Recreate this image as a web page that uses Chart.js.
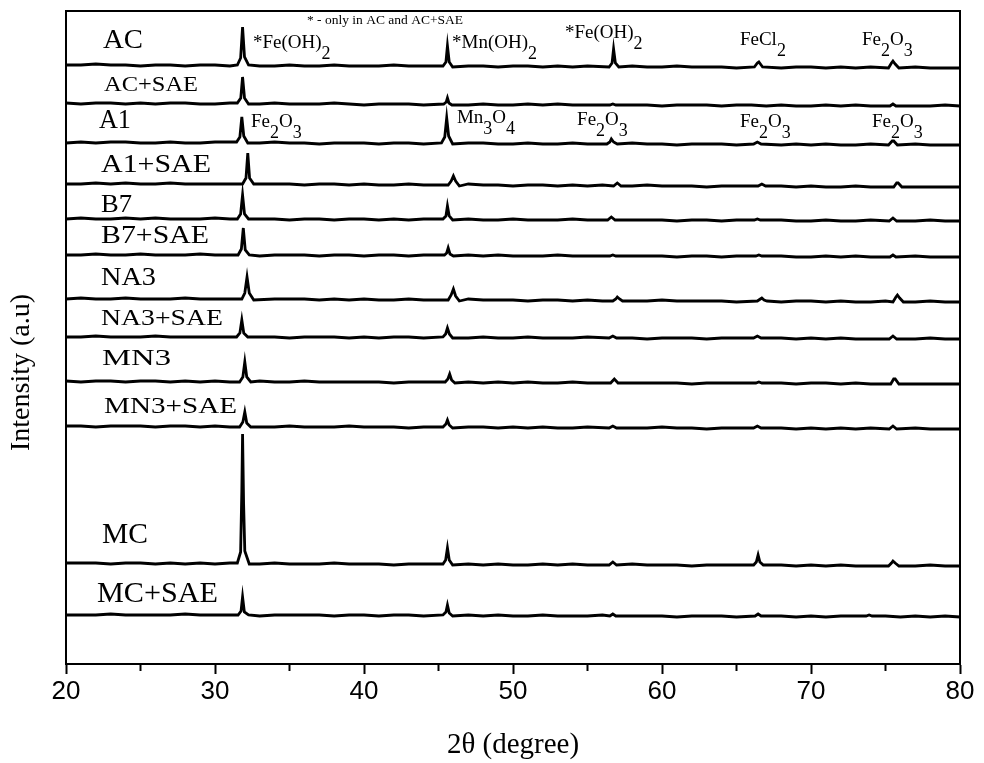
<!DOCTYPE html>
<html><head><meta charset="utf-8">
<script src="https://cdn.jsdelivr.net/npm/chart.js@4.4.1/dist/chart.umd.min.js"></script>
<style>html,body{margin:0;padding:0;background:#fff}#wrap{width:984px;height:763px}</style>
</head><body><div id="wrap"><canvas id="c" width="984" height="763"></canvas></div>
<script>
// ---- data ----
const samples = ['AC','AC+SAE','A1','A1+SAE','B7','B7+SAE','NA3','NA3+SAE','MN3','MN3+SAE','MC','MC+SAE'];
const offsets = [596,558,519,477,443,407,362,325,280,235,98,47];
const xTickLabels = [20,30,40,50,60,70,80];
const theta = [20,21,22,23,24,25,26,27,28,29,30,31,32,33,34,35,36,37,38,39,40,41,42,43,44,45,46,47,48,49,50,
  51,52,53,54,55,56,57,58,59,60,61,62,63,64,65,66,67,68,69,70,71,72,73,74,75,76,77,78,79,80];

const acBase    = [3,3,4,3,3,2,3,3,2,3, 3,2,3,2,2,3,2,2,3,2, 2,2,3,2,2,1,2,2,2,1, 2,2,1,2,1,2,1,1,2,1, 1,2,1,1,1,0,1,1,0,1, 1,0,1,0,1,0,0,1,0,0, 0];
const acSaeBase = [3,2,3,3,2,3,2,3,3,2, 2,3,2,2,3,2,2,2,3,2, 1,2,2,2,1,2,2,1,2,1, 1,2,1,2,1,1,1,2,1,1, 0,1,1,1,0,1,1,0,1,0, 0,1,0,1,0,0,1,0,0,1, 0];
const a1Base    = [2,3,2,3,3,2,2,3,2,2, 3,2,2,2,3,2,2,1,2,2, 2,1,2,2,1,2,1,2,2,1, 1,2,1,1,2,1,1,1,2,1, 1,0,1,1,1,0,1,1,0,1, 0,1,0,0,1,0,0,1,0,0, 0];
const a1SaeBase = [3,3,4,3,4,3,3,4,3,3, 3,3,3,4,3,3,2,3,3,2, 3,2,2,3,2,2,2,3,2,2, 1,2,2,1,2,1,2,1,1,2, 1,1,1,0,1,1,0,1,1,0, 1,0,0,1,0,0,1,0,0,0, 0];
const b7Base    = [2,3,2,2,3,2,3,2,2,2, 3,2,2,2,2,1,2,2,1,2, 2,1,2,1,2,1,1,2,1,1, 2,1,1,1,2,1,1,0,1,1, 1,0,1,1,0,1,0,1,1,0, 0,1,0,0,1,0,0,0,1,0, 0];
const b7SaeBase = [2,2,3,2,2,3,2,2,2,3, 2,2,2,1,2,2,2,1,2,2, 1,2,2,1,2,1,1,2,1,2, 1,1,1,2,1,1,1,0,1,1, 1,0,1,1,0,1,1,0,1,0, 0,1,0,1,0,0,0,1,0,0, 0];
const na3Base   = [3,4,3,3,4,3,3,3,4,3, 3,3,3,2,3,3,3,2,3,2, 3,2,2,3,2,2,2,3,2,2, 2,1,2,2,1,2,1,2,1,1, 2,1,1,1,1,0,1,1,0,1, 1,0,1,0,0,1,0,0,1,0, 0];
const na3SaeBase= [2,2,3,2,2,2,3,2,2,2, 2,3,2,2,2,1,2,2,2,1, 2,1,2,2,1,2,1,1,2,1, 1,2,1,1,1,2,1,1,1,0, 1,1,1,0,1,1,0,1,1,0, 1,0,1,0,0,1,0,0,1,0, 0];
const mn3Base   = [3,2,3,3,2,3,3,2,3,2, 3,2,2,3,2,2,3,2,2,2, 2,2,1,2,2,1,2,2,1,2, 1,2,1,1,2,1,1,2,1,1, 1,1,0,1,1,1,0,1,1,0, 1,1,0,1,0,0,1,0,0,0, 0];
const mn3SaeBase= [3,3,2,3,3,3,2,3,3,2, 3,2,3,2,2,3,2,2,2,3, 2,2,2,1,2,2,1,2,2,1, 2,1,2,1,1,2,1,1,1,1, 2,1,1,0,1,1,0,1,1,0, 1,0,1,0,1,0,0,1,0,0, 0];
const mcBase    = [3,3,3,2,3,3,2,3,2,3, 2,3,2,2,3,2,2,2,3,2, 2,2,1,2,2,2,1,2,1,2, 1,1,2,1,2,1,1,1,2,1, 1,1,0,1,1,1,0,1,1,0, 1,0,1,0,0,1,0,0,1,0, 0];
const mcSaeBase = [2,2,2,3,2,2,2,2,3,2, 2,2,2,1,2,2,2,2,1,2, 2,1,2,2,1,2,1,2,1,2, 1,1,2,1,1,1,2,1,1,1, 1,0,1,1,1,0,1,1,1,0, 1,0,1,1,0,1,0,1,0,1, 0];

const acPeaks = [[31.5,3],[31.72,10],[31.85,41],[31.98,11],[32.25,3],
  [45.3,2],[45.5,6],[45.6,22],[45.72,6],[45.95,1],
  [56.45,1],[56.65,5],[56.75,19],[56.87,5],[57.1,1],
  [66.2,1],[66.4,5],[66.5,6],[66.75,1],
  [75.2,0],[75.4,5],[75.5,7],[75.65,4],[75.9,0]];
const acSaePeaks = [[31.5,3],[31.73,8],[31.85,29],[31.98,8],[32.25,2],
  [45.35,2],[45.52,4],[45.6,8],[45.7,3],[45.9,1],
  [56.5,1],[56.7,2],[56.9,1],
  [75.3,0],[75.5,2],[75.7,0]];
const a1Peaks = [[31.45,3],[31.67,8],[31.8,28],[31.93,9],[32.2,2],
  [45.2,2],[45.42,8],[45.55,27],[45.68,9],[45.95,1],
  [56.3,1],[56.5,3],[56.6,6],[56.75,3],[57.0,1],
  [66.15,1],[66.4,3],[66.65,1],
  [75.2,0],[75.45,4],[75.55,4],[75.8,0]];
const a1SaePeaks = [[31.85,3],[32.08,9],[32.2,34],[32.32,9],[32.6,3],
  [45.65,2],[45.85,6],[46.0,11],[46.15,6],[46.4,1],
  [56.75,1],[57.0,4],[57.25,1],
  [66.45,1],[66.7,3],[66.95,1],
  [75.55,0],[75.75,4],[75.85,4],[76.1,0]];
const b7Peaks = [[31.5,2],[31.72,7],[31.85,26],[31.98,7],[32.25,2],
  [45.3,2],[45.5,5],[45.6,15],[45.72,5],[45.95,1],
  [56.35,1],[56.6,4],[56.85,1],
  [66.2,1],[66.4,2],[66.6,1],
  [75.25,0],[75.5,3],[75.75,0]];
const b7SaePeaks = [[31.55,2],[31.77,8],[31.9,29],[32.03,7],[32.3,2],
  [45.4,2],[45.55,4],[45.65,9],[45.77,3],[46.0,1],
  [56.5,1],[56.7,2],[56.9,1],
  [66.3,1],[66.5,2],[66.7,1],
  [75.3,0],[75.5,2],[75.7,0]];
const na3Peaks = [[31.8,3],[32.0,9],[32.15,25],[32.3,9],[32.6,2],
  [45.65,2],[45.85,7],[46.0,13],[46.15,6],[46.4,1],
  [56.7,1],[56.9,3],[57.0,5],[57.15,3],[57.35,1],
  [66.4,1],[66.6,3],[66.7,4],[66.85,2],[67.05,1],
  [75.5,0],[75.7,5],[75.8,7],[75.95,4],[76.2,0]];
const na3SaePeaks = [[31.45,2],[31.67,6],[31.8,19],[31.93,6],[32.2,2],
  [45.3,2],[45.48,5],[45.6,11],[45.73,5],[45.95,1],
  [56.45,1],[56.7,3],[56.95,1],
  [66.15,1],[66.4,3],[66.65,1],
  [75.25,0],[75.5,3],[75.75,0]];
const mn3Peaks = [[31.65,2],[31.87,7],[32.0,22],[32.13,7],[32.4,2],
  [45.45,2],[45.63,5],[45.75,10],[45.88,4],[46.1,1],
  [56.55,1],[56.8,5],[57.05,1],
  [66.3,1],[66.5,2],[66.7,1],
  [75.35,0],[75.55,5],[75.65,5],[75.9,0]];
const mn3SaePeaks = [[31.65,2],[31.87,7],[32.0,17],[32.13,6],[32.4,2],
  [45.3,2],[45.5,5],[45.6,9],[45.72,4],[45.95,1],
  [56.45,1],[56.7,3],[56.95,1],
  [66.15,1],[66.4,3],[66.65,1],
  [75.25,0],[75.5,3],[75.75,0]];
const mcPeaks = [[31.5,3],[31.72,14],[31.8,75],[31.85,132],[31.92,62],[32.0,15],[32.3,2],
  [45.3,2],[45.48,6],[45.6,18],[45.72,6],[45.95,1],
  [56.45,1],[56.7,4],[56.95,1],
  [66.15,1],[66.33,4],[66.45,11],[66.57,4],[66.8,1],
  [75.2,0],[75.4,3],[75.5,5],[75.65,3],[75.9,0]];
const mcSaePeaks = [[31.55,2],[31.75,6],[31.85,20],[31.97,5],[32.25,2],
  [45.3,2],[45.5,5],[45.6,12],[45.72,4],[45.95,1],
  [56.5,1],[56.7,3],[56.9,1],
  [66.25,1],[66.45,3],[66.65,1],
  [73.7,1],[73.9,2],[74.1,1]];

// ---- build ----
const baseList = [acBase,acSaeBase,a1Base,a1SaeBase,b7Base,b7SaeBase,na3Base,na3SaeBase,mn3Base,mn3SaeBase,mcBase,mcSaeBase];
const peakList = [acPeaks,acSaePeaks,a1Peaks,a1SaePeaks,b7Peaks,b7SaePeaks,na3Peaks,na3SaePeaks,mn3Peaks,mn3SaePeaks,mcPeaks,mcSaePeaks];

function buildSeries(i){
  const pk = peakList[i], base = baseList[i], pts = [];
  const n = Math.min(theta.length, base.length);
  for (let k=0;k<n;k++){
    const t = theta[k];
    if (!pk.some(p => Math.abs(p[0]-t) < 0.5)) pts.push({x:t, y:offsets[i]+base[k]});
  }
  pk.forEach(p => pts.push({x:p[0], y:offsets[i]+p[1]}));
  pts.sort((a,b)=>a.x-b.x);
  return pts;
}
const datasets = samples.map((s,i)=>({label:s, data:buildSeries(i), borderColor:'#000', backgroundColor:'#000',
  borderWidth:2.8, pointRadius:0, tension:0, fill:false}));

// ---- text annotations (layout) ----
const SERIF = "'Liberation Serif','Times New Roman',Times,serif";
// [text, x(deg), y(units), fontSize, targetWidth]
const sampleLabelLayout = [
  [22.48,616,28,40],[22.55,573,22,94],[22.21,536,27,32],[22.35,492,26,110],
  [22.35,452,26,31],[22.35,421,26,108],[22.35,379,25,55],[22.35,339,23,122],
  [22.42,299,24,69],[22.55,251,24,133],[22.42,121,29,46],[22.08,62,29,121]
];
const phaseLabels = [
  {segs:[['*Fe(OH)'],['2',1]], x:32.55, y:616},
  {segs:[['*Mn(OH)'],['2',1]], x:45.91, y:616},
  {segs:[['*Fe(OH)'],['2',1]], x:53.49, y:626},
  {segs:[['FeCl'],['2',1]], x:65.23, y:619},
  {segs:[['Fe'],['2',1],['O'],['3',1]], x:73.42, y:619},
  {segs:[['Fe'],['2',1],['O'],['3',1]], x:32.42, y:537},
  {segs:[['Mn'],['3',1],['O'],['4',1]], x:46.24, y:541},
  {segs:[['Fe'],['2',1],['O'],['3',1]], x:54.30, y:539},
  {segs:[['Fe'],['2',1],['O'],['3',1]], x:65.23, y:537},
  {segs:[['Fe'],['2',1],['O'],['3',1]], x:74.09, y:537}
];
const noteText = '* - only in AC and AC+SAE';

const textPlugin = {
  id:'texts',
  afterDraw(chart){
    const ctx = chart.ctx, xs = chart.scales.x, ys = chart.scales.y, a = chart.chartArea;
    ctx.save();
    ctx.strokeStyle = '#000'; ctx.lineWidth = 2;
    ctx.strokeRect(a.left, a.top, a.right-a.left, a.bottom-a.top);
    ctx.fillStyle = '#000'; ctx.textBaseline = 'alphabetic'; ctx.textAlign = 'left';
    samples.forEach((s,i)=>{
      const [dx,dy,fs,w] = sampleLabelLayout[i];
      ctx.font = fs+'px '+SERIF;
      const w0 = ctx.measureText(s).width;
      ctx.save();
      ctx.translate(xs.getPixelForValue(dx), ys.getPixelForValue(dy));
      ctx.scale(w/w0, 1);
      ctx.fillText(s, 0, 0);
      ctx.restore();
    });
    phaseLabels.forEach(l=>{
      let cx = xs.getPixelForValue(l.x); const by = ys.getPixelForValue(l.y);
      l.segs.forEach(sg=>{
        const sub = sg[1]===1;
        ctx.font = (sub?18:19)+'px '+SERIF;
        ctx.fillText(sg[0], cx, by + (sub?11:0));
        cx += ctx.measureText(sg[0]).width;
      });
    });
    ctx.font = '13.5px '+SERIF;
    ctx.fillText(noteText, xs.getPixelForValue(36.17), ys.getPixelForValue(640));
    ctx.restore();
  }
};

new Chart(document.getElementById('c'), {
  type:'line',
  data:{datasets},
  plugins:[textPlugin],
  options:{
    responsive:false, animation:false, devicePixelRatio:1,
    layout:{padding:{top:11,right:24,left:0,bottom:0}},
    plugins:{legend:{display:false}, tooltip:{enabled:false}},
    scales:{
      x:{type:'linear', min:20, max:80,
        afterFit(s){ s.height = 99; },
        ticks:{stepSize:5, autoSkip:false, maxRotation:0, padding:2, color:'#000',
          font:{family:"'Liberation Sans Narrow','Liberation Sans',Arial,sans-serif", size:26},
          callback:v => xTickLabels.includes(v) ? String(v) : ''},
        grid:{drawOnChartArea:false, drawTicks:true, tickLength:10, tickWidth:2, tickColor:'#000',
          tickBorderDash: c => (c.tick && c.tick.value % 10 !== 0) ? [6, 40] : []},
        border:{display:true, color:'#000', width:2},
        title:{display:true, text:'2θ (degree)', color:'#000', font:{family:SERIF, size:29}, padding:{top:0,bottom:0}}
      },
      y:{min:0, max:653,
        afterFit(s){ s.width = 66; },
        ticks:{display:false},
        grid:{drawOnChartArea:false, drawTicks:false},
        border:{display:true, color:'#000', width:2},
        title:{display:true, text:'Intensity (a.u)          ', color:'#000', font:{family:SERIF, size:28}, padding:{top:5,bottom:0}}
      }
    }
  }
});
</script></body></html>
